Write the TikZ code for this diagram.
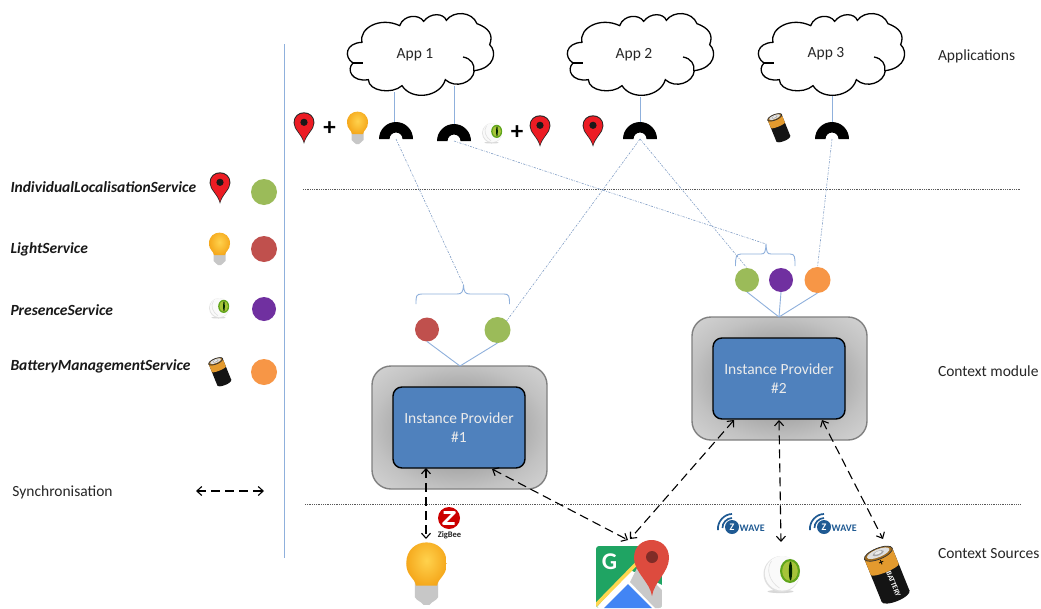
\documentclass[tikz,border=0pt]{standalone}
\usepackage{fontspec}
\setmainfont{Carlito}
\usetikzlibrary{arrows.meta,shadings}
\definecolor{lnblue}{HTML}{8FB0DC}
\definecolor{sgreen}{HTML}{9BBB59}
\definecolor{sred}{HTML}{C0504D}
\definecolor{spurple}{HTML}{7030A0}
\definecolor{sorange}{HTML}{F79646}
\definecolor{ipblue}{HTML}{4F81BD}
\definecolor{zw}{HTML}{1F5A93}
\definecolor{pinred}{HTML}{EC1C24}
\definecolor{gmgreen}{HTML}{1FA463}
\definecolor{gmyellow}{HTML}{FFD64F}
\definecolor{gmblue}{HTML}{4285F4}
\definecolor{gmgray}{HTML}{C9C9C9}
\definecolor{gmred}{HTML}{DD4B3E}
\definecolor{gmdark}{HTML}{802C27}
\definecolor{irisrim}{HTML}{5FA51B}
\definecolor{irisin}{HTML}{A6C43A}
\definecolor{battor}{HTML}{E39A2E}
\definecolor{bulbout}{HTML}{F5A81C}
\definecolor{bulbin}{HTML}{FFD24D}
\pgfdeclareradialshading{gbox}{\pgfpointorigin}{color(0bp)=(black!44); color(16bp)=(black!34); color(25bp)=(black!24); color(35bp)=(black!17); color(100bp)=(black!17)}
\tikzset{
  every node/.style={inner sep=0pt,outer sep=0pt},
  lbl/.style={font=\fontsize{15.5}{18}\selectfont,text=black!85},
  svc/.style={font=\fontsize{15.5}{18}\selectfont\bfseries\itshape,anchor=west,text=black!90},
  dotline/.style={draw=black!65,line width=0.8pt,dash pattern=on 0.9pt off 0.9pt},
  tie/.style={draw=lnblue,line width=0.9pt},
  link/.style={draw=lnblue!90!black,line width=0.6pt,dash pattern=on 2.2pt off 1.3pt on 0.8pt off 1.3pt},
  sync/.style={draw=black,line width=1.1pt,dash pattern=on 9pt off 5pt,{Straight Barb[length=5pt,width=9pt]}-{Straight Barb[length=5pt,width=9pt]}},
  inst/.style={rectangle,rounded corners=9pt,draw=black,line width=1.4pt,fill=ipblue,minimum width=132pt,minimum height=81pt,align=center,text=white!92!black,font=\fontsize{15.5}{19}\selectfont},
  graybox/.style={rounded corners=19pt,shading=gbox},
  grayedge/.style={rounded corners=19pt,draw=black!50,line width=1.4pt},
  pin/.pic={
    \fill[black!85] (0,16.6) .. controls (-2,7) and (-11,2) .. (-11,-5.5) .. controls (-11,-20.2) and (11,-20.2) .. (11,-5.5) .. controls (11,2) and (2,7) .. (0,16.6) -- cycle;
    \fill[pinred] (0,14.5) .. controls (-2,6) and (-10,2) .. (-10,-5.5) .. controls (-10,-18.7) and (10,-18.7) .. (10,-5.5) .. controls (10,2) and (2,6) .. (0,14.5) -- cycle;
    \fill[black!90] (0,-6) circle (3.8);
  },
  bulb/.pic={
    \fill[black!22] (-6,3) -- (6,3) -- (6,12) .. controls (5,14) and (3,14) .. (1.5,16) -- (-1.5,16) .. controls (-3,14) and (-5,14) .. (-6,12) -- cycle;
    \shade[inner color=bulbin,outer color=bulbout] (-5.5,6) .. controls (-6,2) and (-10.5,1) .. (-10.5,-5.5) .. controls (-10.5,-20) and (10.5,-20) .. (10.5,-5.5) .. controls (10.5,1) and (6,2) .. (5.5,6) -- cycle;
  },
  eyeball/.pic={
    \fill[black!30,opacity=.5] (-1,17.5) ellipse (13 and 1.6);
    \fill[black!12] (0,0) circle (18);
    \fill[white!98!black] (.7,-.7) circle (17.3);
    \draw[black!12,line width=.6pt] (-10,-13) .. controls (-16,-5) and (-12,8) .. (-2,14);
    \fill[irisrim] (8.5,-3) ellipse (10 and 12);
    \fill[irisin] (8.5,-3) ellipse (7.8 and 9.8);
    \fill[black!85!green] (9,-3) ellipse (1.6 and 9.5);
  },
  battbody/.pic={
    \fill[black!92] (-15,-23) rectangle (15,23);
    \fill[black!92] (0,23) ellipse (15 and 5);
    \fill[battor] (-15,-23) rectangle (15,-6);
    \fill[battor] (0,-6) ellipse (15 and 3);
    \fill[battor!70!black] (0,-23) ellipse (15 and 5.5);
    \fill[black!12] (0,-23.5) ellipse (12 and 4);
    \fill[black!35] (0,-23.5) ellipse (6 and 2.2);
    \fill[black!8] (0,-24) ellipse (4 and 1.4);
    \draw[black!80,line width=.7pt] (0,-23) ellipse (15 and 5.5);
  },
  zwave/.pic={
    \draw[zw,line width=1.7pt] (-22,7) .. controls (-23,-1) and (-16,-9) .. (-8,-9);
    \draw[zw,line width=1.7pt] (-17.5,5) .. controls (-18,0) and (-13,-5) .. (-8,-5);
    \fill[zw] (-8,4) circle (7);
    \node[text=white,font=\fontsize{10}{10}\selectfont\bfseries] at (-8,4) {Z};
    \node[text=zw,font=\fontsize{10}{10}\selectfont\bfseries,anchor=west] at (-.3,5) {WAVE};
  },
  cloudpic/.pic={
    \begin{scope}[xscale=1/3,yscale=1/3,shift={(-200,-40)}]
    \draw[draw=black,fill=white,line width=1.3pt] (245,128)
      .. controls (235,85) and (300,50) .. (358,78)
      .. controls (370,45) and (415,42) .. (430,65)
      .. controls (450,38) and (490,40) .. (498,62)
      .. controls (520,32) and (575,35) .. (590,72)
      .. controls (625,85) and (640,105) .. (628,135)
      .. controls (650,155) and (645,205) .. (582,213)
      .. controls (578,250) and (525,268) .. (495,240)
      .. controls (480,292) and (395,305) .. (365,258)
      .. controls (335,285) and (265,275) .. (264,240)
      .. controls (215,248) and (197,210) .. (218,190)
      .. controls (190,172) and (195,130) .. (245,128) -- cycle;
    \draw[black,line width=1.3pt] (548,172) .. controls (572,176) and (585,195) .. (580,215);
    \draw[black,line width=1.3pt] (218,190) -- (248,190);
    \end{scope}
  },
  socketpic/.pic={
    \fill[black] (-17,0) arc[start angle=180,end angle=360,radius=17] -- (6.5,0) arc[start angle=360,end angle=180,radius=6.5] -- cycle;
  },
}
\newcommand{\feat}[5]{\node[circle,minimum size=#4,fill=#5] (#1) at (#2,#3) {};}
\begin{document}
\begin{tikzpicture}[x=1pt,y=-1pt]
\useasboundingbox (0,0) rectangle (1041,608);
\fill[white] (0,0) rectangle (1041,608);

% frame lines
\coordinate (vt) at (284.5,44); \coordinate (vb) at (284.5,558);
\draw[tie,line width=.8pt] (vt) -- (vb);
\coordinate (h1a) at (303,189); \coordinate (h1b) at (1020,189);
\coordinate (h2a) at (305,504); \coordinate (h2b) at (1021,504);
\draw[dotline] (h1a) -- (h1b);
\draw[dotline] (h2a) -- (h2b);

% clouds
\pic at (347,13) {cloudpic};
\pic at (567,13) {cloudpic};
\pic at (758,13) {cloudpic};
\node[lbl] (app1) at (415,54.5) {App 1};
\node[lbl] (app2) at (634,54.5) {App 2};
\node[lbl] (app3) at (826,53.5) {App 3};
\coordinate (c1a) at (394,92); \coordinate (c1b) at (454,86);
\coordinate (c2) at (640,97); \coordinate (c3) at (832,96);

% sockets
\coordinate (s1) at (396,139); \coordinate (s2) at (454,141);
\coordinate (s3) at (640,139); \coordinate (s4) at (832,139);
\draw[tie] (c1a) -- (394,123);
\draw[tie] (c1b) -- (454,124);
\draw[tie] (c2) -- (640,122);
\draw[tie] (c3) -- (832,122);
\pic at (s1) {socketpic};
\pic at (s2) {socketpic};
\pic at (s3) {socketpic};
\pic at (s4) {socketpic};

% top icons
\pic[scale=.95] at (304,128) {pin};
\node[font=\fontsize{25}{25}\selectfont\bfseries] (plus1) at (329.5,129) {+};
\pic[scale=1] at (357.5,128) {bulb};
\pic[scale=.55] at (492,133) {eyeball};
\node[font=\fontsize{25}{25}\selectfont\bfseries] (plus2) at (517,133) {+};
\pic[scale=.95] at (540,131) {pin};
\pic[scale=.95] at (593,131) {pin};
\pic[scale=.5,rotate=22] at (779,128) {battbody};

% left legend
\node[svc] (n1) at (10.5,187) {IndividualLocalisationService};
\node[svc] (n2) at (10.5,249) {LightService};
\node[svc] (n3) at (10.5,310) {PresenceService};
\node[svc] (n4) at (10.5,366) {BatteryManagementService};
\pic[scale=.95] at (220,188) {pin};
\pic[scale=1] at (219.5,249) {bulb};
\pic[scale=.55] at (219,308) {eyeball};
\pic[scale=.5,rotate=22] at (220,372) {battbody};
\feat{lg1}{264}{192}{26}{sgreen}
\feat{lg2}{264}{249}{26}{sred}
\feat{lg3}{264}{309}{24}{spurple}
\feat{lg4}{264}{372}{26}{sorange}
\node[lbl,anchor=west] (syn) at (12.5,492) {Synchronisation};
\coordinate (sya) at (196,491); \coordinate (syb) at (264,491);
\draw[sync] (sya) -- (syb);

% right labels
\node[lbl,anchor=west] (l1) at (938,56) {Applications};
\node[lbl,anchor=west] (l2) at (938,371.5) {Context module};
\node[lbl,anchor=west] (l3) at (938,553.5) {Context Sources};

% provider 1
\shade[graybox] (372,366) rectangle (547,489);
\draw[grayedge] (372,366) rectangle (547,489);
\node[inst] (ip1) at (459,427.5) {Instance Provider\\\#1};
\feat{r1}{427}{329.5}{24}{sred}
\feat{g1}{497.5}{330}{26}{sgreen}
\coordinate (t1) at (460,366);
\draw[tie] (r1.south) -- (t1);
\draw[tie] (g1.south) -- (t1);
\draw[tie] (416,304) .. controls (416,296) and (416,294) .. (422,294) -- (457,294) .. controls (462,294) and (463,292) .. (463.5,285) .. controls (464,292) and (465,294) .. (470,294) -- (504,294) .. controls (509,294) and (509.5,296) .. (509.5,304);
\coordinate (b1) at (463.5,285);

% provider 2
\shade[graybox] (692,317) rectangle (867,440);
\draw[grayedge] (692,317) rectangle (867,440);
\node[inst] (ip2) at (779,378.5) {Instance Provider\\\#2};
\feat{g2}{747}{280}{24}{sgreen}
\feat{p2}{781}{280}{24}{spurple}
\feat{o2}{817.5}{280}{26}{sorange}
\coordinate (t2) at (779,317);
\draw[tie] (g2.south) -- (t2);
\draw[tie] (p2.south) -- (t2);
\draw[tie] (o2.south) -- (t2);
\draw[tie] (735.5,266) .. controls (735.5,257) and (736,254) .. (741,254) -- (761,254) .. controls (765,254) and (765.5,252) .. (766,244) .. controls (766.5,252) and (767,254) .. (771,254) -- (790,254) .. controls (795,254) and (795,257) .. (795,266);
\coordinate (b2) at (766,244);

% service links
\draw[link] (s1) -- (b1);
\draw[link] (s3) -- (g1.north east);
\draw[link] (s3) -- (g2.north);
\draw[link] (s2) -- (b2);
\draw[link] (s4) -- (o2.north);

% bottom icons
\pic[scale=1.93] at (426.5,574) {bulb};
\fill[red!80!black] (449,518) circle (11);
\draw[white,line width=2.8pt,line join=round] (443.5,512.5) -- (454.5,512.5) -- (443.5,523.5) -- (454.5,523.5);
\node[font=\fontsize{8.5}{9}\selectfont\bfseries,text=black!85] (zb) at (449.5,535.5) {ZigBee};
\pic at (740,523) {zwave};
\pic at (832,523) {zwave};

% maps icon
\begin{scope}
\clip[rounded corners=3pt] (596,546) rectangle (662,608);
\fill[gmgreen] (596,546) rectangle (662,608);
\fill[white] (596,608) -- (630,570) -- (662,585) -- (662,608) -- cycle;
\fill[gmgray] (638,566) -- (662,590) -- (662,608) -- (655,608) -- (630,582) -- cycle;
\fill[gmblue] (604,608) -- (628,584) -- (652,608) -- cycle;
\draw[gmyellow,line width=3.6pt] (594,607) -- (640,560);
\end{scope}
\node[text=white,font=\fontsize{24}{24}\selectfont\bfseries] (mg) at (609.5,562) {G};
\fill[gmred] (652,596) .. controls (650,582) and (634,572) .. (634,558) .. controls (634,534) and (669,534) .. (669,558) .. controls (669,572) and (654,582) .. (652,596) -- cycle;
\fill[gmdark] (652,557) circle (6);

% eye and battery
\pic at (781.5,574) {eyeball};
\pic[rotate=22] at (887,575) {battbody};
\node[text=white,font=\fontsize{7.5}{8}\selectfont\bfseries,rotate=-68] (bt) at (893.5,584) {BATTERY};
\node[text=black,font=\fontsize{10}{10}\selectfont\bfseries,rotate=22] (bp) at (881.5,562.5) {+};

% sync arrows
\coordinate (aA) at (426,468); \coordinate (bA) at (426,539);
\coordinate (aB) at (492,469); \coordinate (bB) at (628,540);
\coordinate (aC) at (734,420); \coordinate (bC) at (630,539);
\coordinate (aD) at (779,420); \coordinate (bD) at (781,542);
\coordinate (aE) at (822,420); \coordinate (bE) at (883,539);
\draw[sync] (aA) -- (bA);
\draw[sync] (aB) -- (bB);
\draw[sync] (aC) -- (bC);
\draw[sync] (aD) -- (bD);
\draw[sync] (aE) -- (bE);
\end{tikzpicture}
\end{document}
